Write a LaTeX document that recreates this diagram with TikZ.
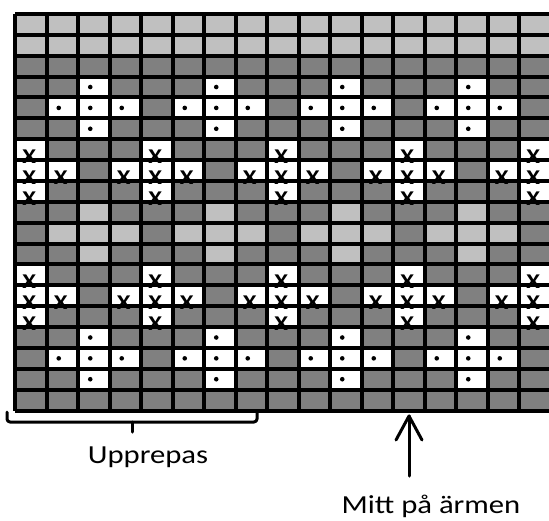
\documentclass[tikz,border=0pt]{standalone}
\usepackage{fontspec}
\newfontfamily\labfont[FakeStretch=1.18]{Carlito}
\definecolor{lightcell}{HTML}{C0C0C0}
\definecolor{darkcell}{HTML}{808080}
\newcommand\CellKind[2]{%
  \pgfmathtruncatemacro\Cmod{mod(#2-1,4)}%
  \pgfmathtruncatemacro\Ckind{#1==0?0:(#1==1?1:(#1==2?(\Cmod==2?2:1):(#1==3?(\Cmod!=0?2:1):(#1==4?(\Cmod==0?3:1):(#1==5?(\Cmod!=2?3:1):(#1==6?(\Cmod==2?0:1):(\Cmod!=0?0:1)))))))}%
}
\begin{document}
\begin{tikzpicture}[x=1pt,y=-1pt,
  gridline/.style={line width=4pt,line cap=square,black},
  xmark/.style={font=\labfont\bfseries\fontsize{21}{21}\selectfont,inner sep=0pt},
  dotmark/.style={circle,fill=black,inner sep=0pt,minimum size=4.6pt},
  labeltext/.style={font=\labfont\fontsize{26}{28}\selectfont,inner sep=0pt,anchor=base},
  markline/.style={line width=3pt,line cap=round,line join=round,black}]
\useasboundingbox (0,0) rectangle (549,520);
\def\cw{31.5}\def\rh{20.87}\def\gx{15}\def\gy{14}
% row types: 0 light, 1 dark, 2 dot centre, 3 dot row, 4 x centre, 5 x row, 6 light centre, 7 light row
\def\rowlist{1/0,2/0,3/1,4/2,5/3,6/2,7/4,8/5,9/4,10/6,11/7,12/6,13/4,14/5,15/4,16/2,17/3,18/2,19/1}
% cell fills
\foreach \r/\t in \rowlist {
  \foreach \c in {1,...,17} {
    \CellKind{\t}{\c}
    \pgfmathsetmacro\xa{\gx+(\c-1)*\cw}
    \pgfmathsetmacro\ya{\gy+(\r-1)*\rh}
    \ifcase\Ckind
      \fill[lightcell] (\xa,\ya) rectangle ++(\cw,\rh);
    \or
      \fill[darkcell] (\xa,\ya) rectangle ++(\cw,\rh);
    \or
      \fill[white] (\xa,\ya) rectangle ++(\cw,\rh);
    \or
      \fill[white] (\xa,\ya) rectangle ++(\cw,\rh);
    \fi
  }
}
% grid lines
\foreach \k in {0,...,17} {
  \draw[gridline] ({\gx+\k*\cw},\gy) -- ({\gx+\k*\cw},{\gy+19*\rh});
}
\foreach \j in {0,...,19} {
  \draw[gridline] (\gx,{\gy+\j*\rh}) -- ({\gx+17*\cw},{\gy+\j*\rh});
}
% marks
\foreach \r/\t in \rowlist {
  \foreach \c in {1,...,17} {
    \CellKind{\t}{\c}
    \pgfmathsetmacro\xc{\gx+(\c-0.5)*\cw}
    \pgfmathsetmacro\yc{\gy+(\r-0.5)*\rh}
    \pgfmathsetmacro\yb{\gy+\r*\rh-3.5}
    \ifnum\Ckind=2
      \node[dotmark] (dot-\r-\c) at ({\xc-3.5},\yc) {};
    \fi
    \ifnum\Ckind=3
      \node[xmark] (x-\r-\c) at ({\xc-1.5},\yb) {X};
    \fi
  }
}
% brace
\coordinate (braceL) at (7,412);
\coordinate (braceR) at (257,412);
\coordinate (braceM) at (132,422);
\draw[markline,rounded corners=3pt] (braceL) -- ++(0,10) -- ++(250,0) -- (braceR);
\draw[markline] (braceM) -- ++(0,10);
\node[labeltext] (upprepas) at (148,463) {Upprepas};
% arrow
\coordinate (arrtip) at (409,416);
\coordinate (arrtail) at (409,476);
\draw[markline] (arrtail) -- (arrtip);
\draw[markline] (arrtip) ++(-13,24) -- (arrtip) -- ++(13,24);
\node[labeltext] (mitt) at (431,513) {Mitt på ärmen};
\end{tikzpicture}
\end{document}
